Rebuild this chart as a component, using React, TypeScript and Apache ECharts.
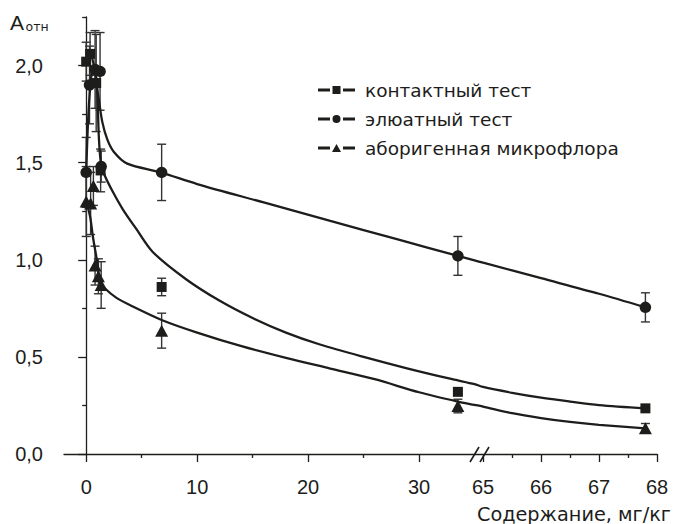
import React, { useEffect, useRef } from 'react';
import * as echarts from 'echarts';

const FONT = '"Liberation Sans", Arial, Helvetica, sans-serif';
const FONT_WIDE = '"DejaVu Sans", "Liberation Sans", Arial, sans-serif';
const INK = '#1d1d1b';

// Broken x axis: 0..35 on a linear scale, then 65..68 stretched
const BREAK_START = 35;
const BREAK_END = 65;
const AXIS_AT_BREAK_END = 35.77;
const STRETCH_AFTER_BREAK = 5.225;
const toAxis = (x: number) =>
  x <= BREAK_START ? x : AXIS_AT_BREAK_END + (x - BREAK_END) * STRETCH_AFTER_BREAK;
const fromAxis = (t: number) =>
  t <= BREAK_START + 0.4 ? t : BREAK_END + (t - AXIS_AT_BREAK_END) / STRETCH_AFTER_BREAK;

// Tick labels
const xMajorTicks = [0, 10, 20, 30, 65, 66, 67, 68];
const xMinorTicks = [5, 15, 25, 65.5, 66.5, 67.5];
const yMajorTicks = [0, 0.5, 1.0, 1.5, 2.0];
const yMinorTicks = [0.25, 0.75, 1.25, 1.75, 2.25];

const seriesNames = ['контактный тест', 'элюатный тест', 'аборигенная микрофлора'];

// контактный тест (squares)
const contactX = [0, 0.35, 0.9, 1.3, 6.8, 33.5, 67.8];
const contactY = [2.02, 2.06, 1.91, 1.46, 0.86, 0.32, 0.235];
const contactErr = [0.1, 0.11, 0.25, 0.11, 0.045, 0.015, 0.01];

// элюатный тест (circles)
const eluateX = [0, 0.3, 0.8, 1.25, 1.35, 6.8, 33.5, 67.8];
const eluateY = [1.45, 1.9, 1.98, 1.97, 1.48, 1.45, 1.02, 0.755];
const eluateErr = [0.18, 0.2, 0.2, 0.2, 0.08, 0.145, 0.1, 0.075];

// аборигенная микрофлора (triangles)
const nativeX = [0, 0.4, 0.65, 0.8, 1.1, 1.35, 6.8, 33.5, 67.8];
const nativeY = [1.3, 1.29, 1.38, 0.97, 0.915, 0.87, 0.635, 0.247, 0.132];
const nativeErr = [0.18, 0.16, 0.1, 0.1, 0.09, 0.12, 0.09, 0.035, 0.025];

// fitted curves
const contactCurveX = [0, 0.35, 0.7, 0.96, 1.15, 1.35, 1.7, 2.4, 3.3, 4.5, 6.0, 9.0, 12.0, 15.0, 18.0, 21.0, 25.0, 29.0, 33.0, 35, 65, 65.5, 66.0, 66.5, 67.0, 67.8];
const contactCurveY = [2.02, 2.06, 2.0, 1.91, 1.62, 1.49, 1.43, 1.35, 1.26, 1.16, 1.04, 0.9, 0.79, 0.7, 0.625, 0.565, 0.5, 0.44, 0.385, 0.36, 0.345, 0.315, 0.29, 0.27, 0.252, 0.235];

const eluateCurveX = [0, 0.2, 0.45, 0.7, 0.96, 1.15, 1.45, 1.9, 2.5, 3.7, 6.7, 10, 16, 22, 28, 33.5, 35, 65, 66, 67, 67.8];
const eluateCurveY = [1.45, 1.75, 1.94, 1.99, 1.89, 1.82, 1.71, 1.62, 1.555, 1.495, 1.45, 1.39, 1.295, 1.2, 1.106, 1.02, 0.997, 0.985, 0.905, 0.825, 0.755];

const nativeCurveX = [0, 0.36, 0.6, 0.96, 1.26, 1.7, 2.7, 4.0, 6.8, 10, 14, 18, 22, 26, 30, 33.5, 35, 65, 65.5, 66.0, 66.5, 67.0, 67.8];
const nativeCurveY = [1.3, 1.22, 1.12, 1.0, 0.885, 0.852, 0.805, 0.765, 0.69, 0.625, 0.555, 0.495, 0.44, 0.385, 0.318, 0.27, 0.253, 0.244, 0.21, 0.185, 0.165, 0.15, 0.132];

const pts = (xs: number[], ys: number[]) => xs.map((x, i) => [toAxis(x), ys[i]]);
const errPts = (xs: number[], ys: number[], es: number[]) =>
  xs.map((x, i) => [toAxis(x), ys[i], es[i]]);

const ICON_SQUARE = 'path://M0,2.5h12v3h-12z M14.5,0h8v8h-8z M25,2.5h12v3h-12z';
const ICON_CIRCLE = 'path://M0,2.5h12v3h-12z M25,2.5h12v3h-12z M14.5,4a4,4 0 1,0 8,0a4,4 0 1,0 -8,0z';
const ICON_TRIANGLE = 'path://M0,2.5h12v3h-12z M25,2.5h12v3h-12z M14,8L18.5,0L23,8z';

function errorBarSeries(data: number[][]) {
  return {
    type: 'custom',
    silent: true,
    z: 2,
    data,
    encode: { x: 0, y: 1 },
    renderItem: (_params: any, api: any) => {
      const x = api.value(0);
      const y = api.value(1);
      const e = api.value(2);
      const top = api.coord([x, y + e]);
      const bot = api.coord([x, y - e]);
      const w = 4.5;
      const style = { stroke: '#333', lineWidth: 1.4 };
      return {
        type: 'group',
        children: [
          { type: 'line', shape: { x1: top[0], y1: top[1], x2: bot[0], y2: bot[1] }, style },
          { type: 'line', shape: { x1: top[0] - w, y1: top[1], x2: top[0] + w, y2: top[1] }, style },
          { type: 'line', shape: { x1: bot[0] - w, y1: bot[1], x2: bot[0] + w, y2: bot[1] }, style },
        ],
      };
    },
  };
}

function curveSeries(data: number[][]) {
  return {
    type: 'line',
    data,
    showSymbol: false,
    symbol: 'none',
    smooth: 0.3,
    silent: true,
    z: 3,
    lineStyle: { color: INK, width: 2.3 },
  };
}

export default function App() {
  const ref = useRef<HTMLDivElement>(null);
  useEffect(() => {
    document.body.style.margin = '0';
    if (!ref.current) return;
    const chart = echarts.init(ref.current, undefined, { renderer: 'svg' });
    const xMin = -2;
    const xMax = toAxis(68);
    const tickStyle = { color: INK, width: 1.3 };
    const option: any = {
      animation: false,
      backgroundColor: '#ffffff',
      grid: { left: 64, right: 16, top: 17, bottom: 70 },
      xAxis: [
        {
          type: 'value',
          min: xMin,
          max: xMax,
          axisLine: { lineStyle: tickStyle },
          axisTick: { customValues: xMajorTicks.map(toAxis), length: 8, lineStyle: tickStyle },
          axisLabel: {
            customValues: xMajorTicks.map(toAxis),
            formatter: (v: number) => String(Math.round(fromAxis(v))),
            fontSize: 20,
            fontFamily: FONT,
            color: INK,
            margin: 23,
          },
          splitLine: { show: false },
        },
        {
          type: 'value',
          min: xMin,
          max: xMax,
          position: 'bottom',
          axisLine: { show: false },
          axisTick: { customValues: xMinorTicks.map(toAxis), length: 4, lineStyle: tickStyle },
          axisLabel: { show: false },
          splitLine: { show: false },
        },
      ],
      yAxis: [
        {
          type: 'value',
          min: 0,
          max: 2.25,
          axisLine: { show: true, lineStyle: tickStyle },
          axisTick: { show: true, customValues: yMajorTicks, length: 8, lineStyle: tickStyle },
          axisLabel: {
            customValues: yMajorTicks,
            formatter: (v: number) => v.toFixed(1).replace('.', ','),
            fontSize: 20,
            fontFamily: FONT,
            color: INK,
            margin: 21,
          },
          splitLine: { show: false },
        },
        {
          type: 'value',
          min: 0,
          max: 2.25,
          position: 'left',
          axisLine: { show: false },
          axisTick: { show: true, customValues: yMinorTicks, length: 4, lineStyle: tickStyle },
          axisLabel: { show: false },
          splitLine: { show: false },
        },
      ],
      legend: {
        orient: 'vertical',
        left: 318,
        top: 80.5,
        padding: 0,
        itemWidth: 37,
        itemHeight: 8,
        itemGap: 10,
        selectedMode: false,
        textStyle: { fontSize: 18.5, fontFamily: FONT_WIDE, color: INK, padding: [0, 0, 0, 5] },
        data: [
          { name: seriesNames[0], icon: ICON_SQUARE },
          { name: seriesNames[1], icon: ICON_CIRCLE },
          { name: seriesNames[2], icon: ICON_TRIANGLE },
        ],
      },
      graphic: [
        { type: 'text', left: 10, top: 12, style: { text: 'A', font: `21px ${FONT}`, fill: INK } },
        { type: 'text', left: 25.5, top: 20, style: { text: 'отн', font: `12.5px ${FONT_WIDE}`, fill: INK } },
        { type: 'text', right: 2, top: 504.5, style: { text: 'Содержание, мг/кг', font: `19.3px ${FONT_WIDE}`, fill: INK } },
        { type: 'line', shape: { x1: 470, y1: 462, x2: 479, y2: 447 }, style: { stroke: INK, lineWidth: 1.6 } },
        { type: 'line', shape: { x1: 480, y1: 462, x2: 489, y2: 447 }, style: { stroke: INK, lineWidth: 1.6 } },
      ],
      series: [
        errorBarSeries(errPts(contactX, contactY, contactErr)),
        errorBarSeries(errPts(eluateX, eluateY, eluateErr)),
        errorBarSeries(errPts(nativeX, nativeY, nativeErr)),
        curveSeries(pts(contactCurveX, contactCurveY)),
        curveSeries(pts(eluateCurveX, eluateCurveY)),
        curveSeries(pts(nativeCurveX, nativeCurveY)),
        {
          name: seriesNames[0],
          type: 'scatter',
          symbol: 'rect',
          symbolSize: 10,
          z: 4,
          itemStyle: { color: INK, opacity: 1 },
          data: pts(contactX, contactY),
        },
        {
          name: seriesNames[1],
          type: 'scatter',
          symbol: 'circle',
          symbolSize: 11.5,
          z: 4,
          itemStyle: { color: INK, opacity: 1 },
          data: pts(eluateX, eluateY),
        },
        {
          name: seriesNames[2],
          type: 'scatter',
          symbol: 'triangle',
          symbolSize: [13, 12],
          z: 4,
          itemStyle: { color: INK, opacity: 1 },
          data: pts(nativeX, nativeY),
        },
      ],
    };
    chart.setOption(option);
    return () => chart.dispose();
  }, []);
  return <div ref={ref} style={{ width: 673, height: 524 }} />;
}
